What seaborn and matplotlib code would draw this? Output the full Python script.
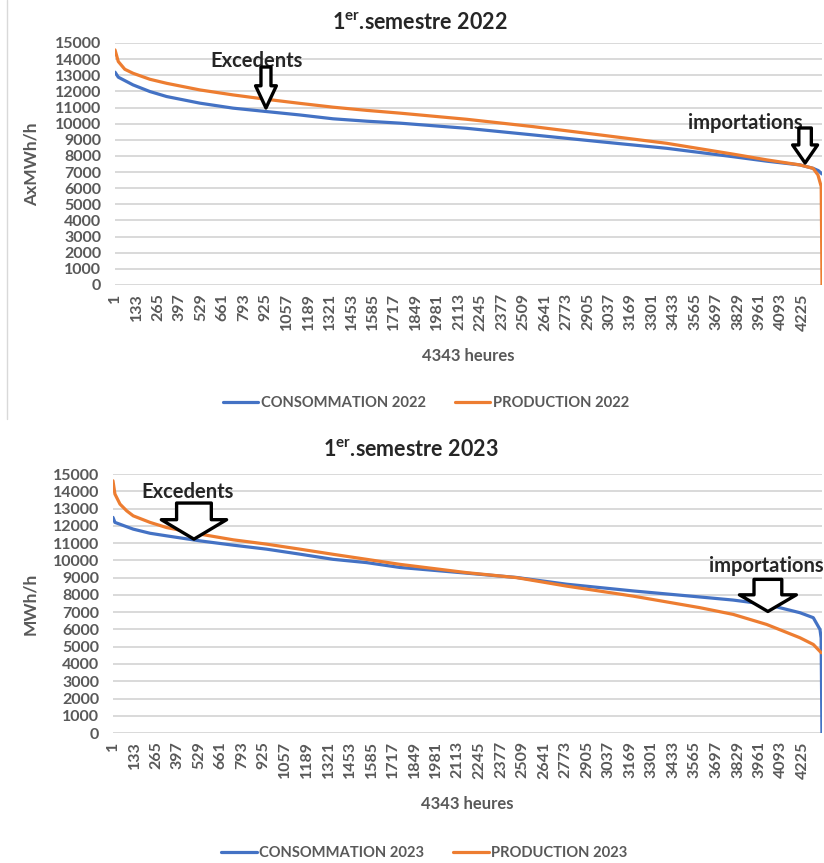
import matplotlib
matplotlib.use("Agg")
import matplotlib.pyplot as plt
from matplotlib.lines import Line2D
import seaborn as sns
import pandas as pd

# courbes classees (MWh/h)
heures_conso_2022 = [1, 21, 112, 215, 318, 522, 726, 930, 1134, 1340, 1549, 1752, 2161, 2569, 2980,
                     3390, 3797, 4006, 4208, 4288, 4320, 4343]
conso_2022 = [13190, 12880, 12400, 11990, 11680, 11270, 10960, 10750, 10540, 10300, 10150, 10030, 9710,
              9300, 8880, 8470, 7950, 7670, 7440, 7230, 7090, 6880]

heures_prod_2022 = [1, 21, 61, 112, 215, 318, 522, 726, 930, 1134, 1340, 1549, 1752, 2161, 2569, 2980,
                    3390, 3797, 4006, 4208, 4288, 4318, 4338, 4343]
prod_2022 = [14570, 13850, 13370, 13120, 12750, 12500, 12090, 11780, 11510, 11260, 11020, 10820, 10650,
             10270, 9815, 9300, 8780, 8110, 7750, 7440, 7230, 6820, 6100, 0]

heures_conso_2023 = [1, 13, 125, 228, 330, 534, 738, 942, 1146, 1350, 1555, 1758, 2167, 2473, 2779,
                     3187, 3596, 3800, 4004, 4208, 4290, 4331, 4338, 4343]
conso_2023 = [12490, 12200, 11810, 11570, 11420, 11130, 10880, 10650, 10360, 10060, 9870, 9590, 9260,
              9010, 8620, 8230, 7880, 7700, 7450, 6970, 6680, 6000, 5500, 0]

heures_prod_2023 = [1, 13, 44, 85, 125, 228, 330, 534, 738, 942, 1146, 1350, 1555, 1758, 2167, 2473,
                    2779, 3187, 3596, 3800, 4004, 4208, 4290, 4339]
prod_2023 = [14610, 13840, 13260, 12870, 12580, 12200, 11900, 11520, 11190, 10940, 10650, 10350, 10060,
             9770, 9290, 9000, 8510, 7930, 7260, 6870, 6290, 5520, 5130, 4650]

ticks_heures = list(range(1, 4344, 132))

BLEU = "#4472C4"
ORANGE = "#ED7D31"
GRIS = "#595959"

sns.set_style("white")
plt.rcParams["font.family"] = ["Lato", "DejaVu Sans"]


def tableau(h_c, c, h_p, p, annee):
    a = pd.DataFrame({"heure": h_c, "MWh": c, "serie": f"CONSOMMATION {annee}"})
    b = pd.DataFrame({"heure": h_p, "MWh": p, "serie": f"PRODUCTION {annee}"})
    return pd.concat([a, b], ignore_index=True)


def fleche(ax, x, y0, y1, tete_l, tete_w, queue_w):
    style = f"simple,head_length={tete_l},head_width={tete_w},tail_width={queue_w}"
    ax.annotate("", xy=(x, y1), xytext=(x, y0),
                arrowprops=dict(arrowstyle=style, fc="white", ec="black", lw=2.4,
                                mutation_scale=1, shrinkA=0, shrinkB=0),
                annotation_clip=False)


fig = plt.figure(figsize=(8.24, 8.63), dpi=100)

panneaux = [
    (tableau(heures_conso_2022, conso_2022, heures_prod_2022, prod_2022, 2022), 2022,
     [0.1396, 0.6698, 0.858, 0.2804], "AxMWh/h"),
    (tableau(heures_conso_2023, conso_2023, heures_prod_2023, prod_2023, 2023), 2023,
     [0.1371, 0.1506, 0.8604, 0.3001], "MWh/h"),
]

axes = []
for df, annee, rect, ylab in panneaux:
    ax = fig.add_axes(rect)
    sns.lineplot(data=df, x="heure", y="MWh", hue="serie", estimator=None,
                 palette=[BLEU, ORANGE], linewidth=2.3, ax=ax)
    ax.set_xlim(1, 4343)
    ax.set_ylim(0, 15000)
    ax.set_yticks(range(0, 15001, 1000))
    ax.set_xticks(ticks_heures)
    ax.set_xticklabels([str(t) for t in ticks_heures], rotation=90)
    ax.tick_params(length=0, labelcolor=GRIS, labelsize=11.5)
    ax.tick_params(axis="y", pad=10)
    ax.tick_params(axis="x", pad=6)
    for lab in ax.get_xticklabels() + ax.get_yticklabels():
        lab.set_fontweight("bold")
    ax.yaxis.grid(True, color="#d9d9d9", lw=1.4)
    ax.set_axisbelow(True)
    for s in ax.spines.values():
        s.set_visible(False)
    ax.set_ylabel(ylab, color=GRIS, fontsize=12.5, fontweight="bold")
    ax.yaxis.set_label_coords(-0.106, 0.5)
    ax.set_xlabel("4343 heures", color=GRIS, fontsize=12, fontweight="bold")
    handles, labels = ax.get_legend_handles_labels()
    ax.get_legend().remove()
    axes.append((ax, handles, labels))

ax1, h1, l1 = axes[0]
ax2, h2, l2 = axes[1]

ax1.xaxis.set_label_coords(0.5, -0.26)
ax2.xaxis.set_label_coords(0.5, -0.245)

fig.text(0.51, 0.9745, r"1$^{\mathregular{er}}$.semestre 2022", ha="center", va="center",
         fontsize=15.5, fontweight="bold")
fig.text(0.499, 0.4786, r"1$^{\mathregular{er}}$.semestre 2023", ha="center", va="center",
         fontsize=15.5, fontweight="bold")

leg_kw = dict(loc="center", ncol=2, frameon=False, handlelength=2.4, handletextpad=0.15,
              columnspacing=2.0, labelcolor=GRIS, prop=dict(weight="bold", size=10.6))
fig.legend(h1, l1, bbox_to_anchor=(0.517, 0.533), **leg_kw)
fig.legend(h2, l2, bbox_to_anchor=(0.515, 0.0116), **leg_kw)

# annotations
txt_kw = dict(ha="center", va="center", fontsize=14.5, fontweight="bold", annotation_clip=False)
ax1.annotate("Excedents", xy=(873, 13890), **txt_kw)
fleche(ax1, 928, 13510, 10970, 16, 15, 7.2)
ax1.annotate("importations", xy=(3871, 10040), **txt_kw)
fleche(ax1, 4239, 9730, 7560, 13, 18, 9)

ax2.annotate("Excedents", xy=(460, 13960), **txt_kw)
fleche(ax2, 497, 13320, 11230, 14, 47, 25)
ax2.annotate("importations", xy=(4000, 9660), **txt_kw)
fleche(ax2, 4012, 8900, 7040, 12, 41, 20)

# bord du graphique d'origine
fig.add_artist(Line2D([0.0085, 0.0085], [0.515, 1.0], color="#d9d9d9", lw=1))

fig.savefig("out.png", dpi=100)
